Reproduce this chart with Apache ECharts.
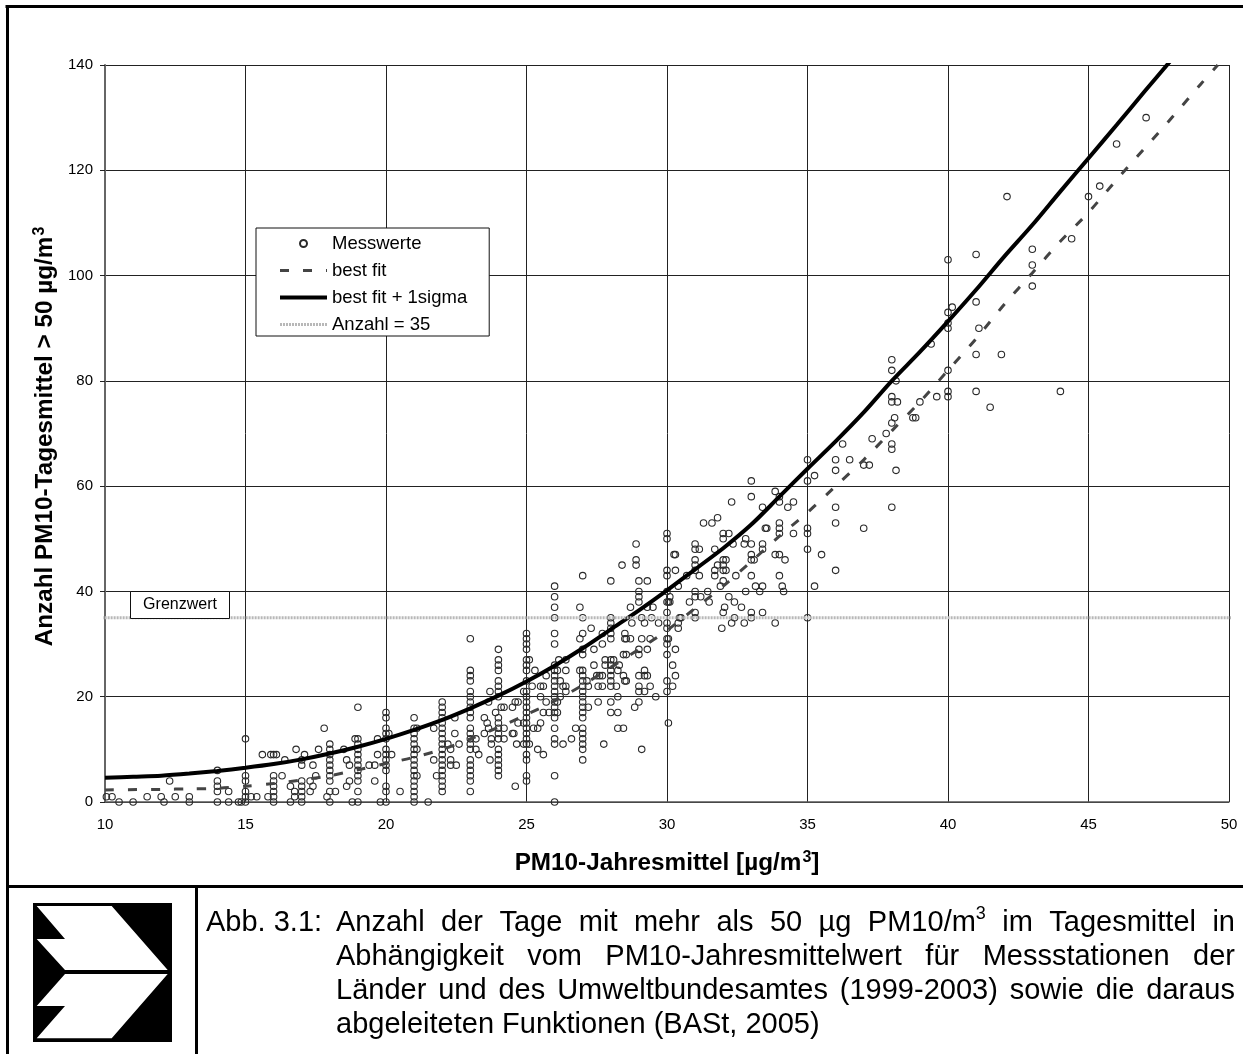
<!DOCTYPE html>
<html><head><meta charset="utf-8">
<style>html,body{margin:0;padding:0;background:#fff}#c{width:1243px;height:1054px}</style>
<script src="https://cdn.jsdelivr.net/npm/echarts@6/dist/echarts.min.js"></script>
</head><body><div id="c"></div>
<script>
const FONT = '"Liberation Sans", Arial, sans-serif';
const xTicks = [10, 15, 20, 25, 30, 35, 40, 45, 50];
const yTicks = [0, 20, 40, 60, 80, 100, 120, 140];
const seriesNames = ['Messwerte', 'best fit', 'best fit + 1sigma', 'Anzahl = 35'];
const xTitle = 'PM10-Jahresmittel [µg/m{sup|3}]';
const yTitle = 'Anzahl PM10-Tagesmittel > 50 µg/m{sup|3}';
const limitLabel = 'Grenzwert';

const points10to20 = [[10.05,1],[10.25,1],[10.5,0],[11,0],[11.5,1],[12,1],[12.1,0],[12.3,4],[12.5,1],[13,1],[13,0],[14,6],[14,4],[14,3],[14,2],[14,0],[14.4,2],[14.4,0],[14.75,0],[14.85,0],[15,0],[15,1],[15,2],[15,4],[15,5],[15,12],[15.2,1],[15.4,1],[15.6,9],[15.8,1],[15.9,9],[16,9],[16.1,9],[16,0],[16,1],[16,2],[16,3],[16,4],[16,5],[16.3,5],[16.4,8],[16.6,3],[16.6,0],[16.75,1],[16.75,2],[16.8,10],[17,0],[17,1],[17,2],[17,3],[17,4],[17,7],[17,8],[17.1,9],[17.3,2],[17.3,4],[17.4,3],[17.4,7],[17.5,5],[17.6,10],[17.8,14],[17.9,1],[18,0],[18,2],[18,4],[18,5],[18,6],[18,7],[18,8],[18,9],[18,10],[18,11],[18.2,2],[18.5,10],[18.6,3],[18.6,8],[18.7,7],[18.7,4],[18.8,0],[18.9,12],[19,0],[19,2],[19,4],[19,5],[19,6],[19,7],[19,8],[19,9],[19,10],[19,11],[19,12],[19,18],[19.4,7],[19.6,7],[19.6,4],[19.7,12],[19.7,9],[19.8,0],[20,0],[20,2],[20,3],[20,6],[20,7],[20,8],[20,9],[20,10],[20,12],[20,13],[20,14],[20,16],[20,17]];
const points20to23 = [[20.1,13],[20.2,9],[20.5,2],[21,16],[21,14],[21,13],[21,12],[21,11],[21,10],[21,9],[21,8],[21,7],[21,6],[21,5],[21,4],[21,3],[21,2],[21,1],[21,0],[21.1,14],[21.1,10],[21.1,5],[21.5,0],[21.7,14],[21.7,8],[21.8,5],[22,19],[22,18],[22,17],[22,16],[22,15],[22,14],[22,13],[22,12],[22,11],[22,10],[22,9],[22,8],[22,7],[22,6],[22,5],[22,4],[22,3],[22,2],[22.2,11],[22.3,10],[22.3,8],[22.3,7],[22.45,16],[22.45,13],[22.5,7],[22.6,11]];
const points23to25 = [[23,31],[23,25],[23,24],[23,23],[23,21],[23,20],[23,19],[23,18],[23,17],[23,16],[23,14],[23,13],[23,12],[23,11],[23,10],[23,8],[23,7],[23,6],[23,5],[23,4],[23,2],[23.2,12],[23.2,10],[23.3,9],[23.5,16],[23.5,13],[23.6,15],[23.65,19],[23.65,14],[23.7,21],[23.7,8],[23.75,12],[23.75,11],[23.9,17],[24,29],[24,27],[24,26],[24,25],[24,23],[24,22],[24,21],[24,20],[24,16],[24,15],[24,14],[24,13],[24,12],[24,10],[24,9],[24,8],[24,7],[24,6],[24,5],[24.1,18],[24.2,18],[24.2,12],[24.2,14],[24.5,18],[24.5,13],[24.6,3],[24.55,13],[24.6,19],[24.7,19],[24.7,15],[24.65,11],[24.9,21],[24.9,11],[24.9,15],[25,32],[25,31],[25,30],[25,29],[25,27],[25,26],[25,25],[25,23],[25,21],[25,20],[25,19],[25,18],[25,17],[25,16],[25,15],[25,14],[25,13],[25,12],[25,11],[25,9],[25,8],[25,5],[25,4]];
const points25to27 = [[25.1,11],[25.1,27],[25.2,22],[25.25,14],[25.3,25],[25.4,14],[25.4,10],[25.5,22],[25.5,20],[25.5,15],[25.6,22],[25.6,17],[25.6,9],[25.7,24],[25.7,19],[25.8,17],[26,41],[26,39],[26,37],[26,35],[26,32],[26,30],[26,26],[26,25],[26,24],[26,23],[26,22],[26,21],[26,20],[26,19],[26,18],[26,17],[26,16],[26,14],[26,12],[26,11],[26,5],[26,0],[26.1,17],[26.1,19],[26.1,25],[26.15,27],[26.2,23],[26.2,20],[26.3,22],[26.3,11],[26.4,27],[26.4,25],[26.4,21],[26.4,22],[26.6,12],[26.75,14],[26.9,37],[26.9,31],[26.9,25],[27,43],[27,35],[27,32],[27,29],[27,28],[27,25],[27,24],[27,23],[27,22],[27,21],[27,20],[27,19],[27,18],[27,17],[27,16],[27,14],[27,13],[27,12],[27,11],[27,10],[27,8]];
const points27to29 = [[27.15,23],[27.2,22],[27.2,18],[27.3,33],[27.4,29],[27.4,26],[27.5,24],[27.55,19],[27.55,22],[27.6,24],[27.7,32],[27.7,30],[27.7,22],[27.7,24],[27.75,11],[27.8,27],[27.8,26],[28,42],[28,35],[28,34],[28,33],[28,32],[28,31],[28,27],[28,26],[28,25],[28,24],[28,23],[28,22],[28,19],[28,17],[28.1,27],[28.2,22],[28.25,25],[28.25,20],[28.25,17],[28.25,14],[28.3,26],[28.4,45],[28.45,28],[28.45,24],[28.45,14],[28.5,32],[28.5,31],[28.5,23],[28.55,31],[28.55,28],[28.55,23],[28.7,37],[28.7,31],[28.75,34],[28.85,18],[28.9,49],[28.9,46],[28.9,45]];
const points29to31 = [[29,42],[29,40],[29,39],[29,38],[29,29],[29,28],[29,24],[29,22],[29,21],[29,19],[29.1,35],[29.1,31],[29.1,10],[29.2,34],[29.2,25],[29.2,24],[29.2,21],[29.3,42],[29.3,37],[29.3,29],[29.3,24],[29.4,31],[29.4,22],[29.45,35],[29.5,37],[29.6,20],[29.7,34],[30,51],[30,50],[30,44],[30,43],[30,40],[30,38],[30,36],[30,34],[30,33],[30,31],[30,30],[30,28],[30,23],[30,21],[30.05,38],[30.05,31],[30.05,15],[30.1,39],[30.1,38],[30.2,22],[30.2,26],[30.25,47],[30.3,47],[30.3,44],[30.3,24],[30.3,29],[30.4,41],[30.4,33],[30.45,35],[30.5,35],[30.4,34],[30.7,43],[30.8,38]];
const points31to35 = [[31,49],[31,48],[31,46],[31,45],[31,44],[31,40],[31,39],[31,36],[31,35],[31.15,48],[31.15,43],[31.2,39],[31.3,53],[31.45,40],[31.5,38],[31.6,53],[31.7,44],[31.7,43],[31.7,48],[31.8,54],[31.8,45],[31.9,41],[31.95,33],[32,51],[32,50],[32,46],[32,45],[32,44],[32,42],[32,36],[32.05,37],[32.1,46],[32.1,44],[32.2,51],[32.2,39],[32.3,34],[32.3,57],[32.35,49],[32.4,38],[32.4,35],[32.45,43],[32.65,37],[32.75,34],[32.75,49],[32.8,50],[32.8,40],[33,47],[33,46],[33,43],[33,36],[33,35],[33,61],[33,58],[33,49],[33.1,46],[33.15,41],[33.3,40],[33.4,36],[33.4,41],[33.4,56],[33.4,49],[33.4,48],[33.5,52],[33.55,52],[33.85,59],[33.85,47],[33.85,34],[34,58],[34,57],[34,53],[34,52],[34,51],[34,47],[34,43],[34.1,41],[34.15,40],[34.2,46],[34.3,56],[34.5,57],[34.5,51]];
const points35to40 = [[35,65],[35,61],[35,52],[35,51],[35,48],[35,35],[35.25,62],[35.25,41],[35.5,47],[36,65],[36,63],[36,56],[36,53],[36,44],[36.25,68],[36.5,65],[37,64],[37,52],[37.2,64],[37.3,69],[37.8,70],[38,84],[38,82],[38,77],[38,76],[38,72],[38,68],[38,67],[38,56],[38.1,73],[38.15,63],[38.15,80],[38.2,76],[38.75,73],[38.85,73],[39,76],[39.4,87],[39.6,77]];
const points40to50 = [[40,103],[40,93],[40,91],[40,90],[40,82],[40,78],[40,77],[40.15,94],[41,104],[41,95],[41,85],[41,78],[41.1,90],[41.5,75],[41.9,85],[42.1,115],[43,105],[43,102],[43,98],[44,78],[44.4,107],[45,115],[45.4,117],[46,125],[47.05,130]];
const measured = [].concat(points10to20, points20to23, points23to25, points25to27, points27to29, points29to31, points31to35, points35to40, points40to50);

const bestFitX = [10,12,13,14,15,16,17,18,19,20,21,22,23,24,25,26,27,28,29,30,31,32,33,34,35,36,37,38,39,40,41,42,43,44,45,46,47,48,49,49.6];
const bestFitY = [2.3,2.4,2.5,2.6,3,3.5,4.2,5,6.1,7.3,8.5,10,12,14.2,16.6,19.2,22.2,25.6,29,32.6,36.8,41,45.7,50.5,55,60,65,70.5,76,82,88,94.5,100.5,106.5,112,118.2,124.2,130.2,136.4,140];
const sigmaX = [10,11,12,13,14,15,16,17,18,19,20,21,22,23,24,25,26,27,28,29,30,31,32,33,34,35,36,37,38,39,40,41,42,43,44,45,46,47,48];
const sigmaY = [4.6,4.8,5,5.4,5.9,6.5,7.2,8.1,9.2,10.5,12,13.7,15.6,17.8,20.2,22.9,25.9,29.2,32.8,36.4,40.2,44.2,48.2,52.7,58,63.3,68.5,74,80,85.5,91.3,97.3,103.6,109.6,116,122.3,128.6,135,141.3];
const limitX = [9.88, 50.09];
const limitY = [35, 35];

const captionLead = 'Abb. 3.1:';
const captionLines = [
  'Anzahl der Tage mit mehr als 50 µg PM10/m^3 im Tagesmittel in',
  'Abhängigkeit vom PM10-Jahresmittelwert für Messstationen der',
  'Länder und des Umweltbundesamtes (1999-2003) sowie die daraus',
  'abgeleiteten Funktionen (BASt, 2005)'
];

const zip = (a, b) => a.map((v, i) => [v, b[i]]);

// ---- frame, logo, caption ----
const BLACK = '#000';
const bar = (x, y, w, h) => ({type:'rect', shape:{x,y,width:w,height:h}, style:{fill:BLACK}, z:1, silent:true});
const graphics = [
  bar(5.5,5,1238,3), bar(6,5,3,1049), bar(6,885,1237,3), bar(195,885,3,169),
  {type:'rect', shape:{x:33,y:903,width:139,height:139}, style:{fill:BLACK}, z:1},
  {type:'polygon', shape:{points:[[36.7,906],[111.7,906],[167.7,970],[65,970],[36.7,939],[65,939]]}, style:{fill:'#fff'}, z:2},
  {type:'polygon', shape:{points:[[65,974],[167.7,974],[111.7,1038.3],[36.7,1038.3],[65,1006],[36.7,1006]]}, style:{fill:'#fff'}, z:2},
  {type:'rect', shape:{x:130.5,y:591.5,width:99,height:27}, style:{fill:'#fff', stroke:'#111', lineWidth:1}, z:20},
  {type:'text', x:180, y:605, style:{text:limitLabel, font:'16px '+FONT, fill:'#000', align:'center', verticalAlign:'middle'}, z:21}
];
const CAP_FONT = 29, CAP_LEFT = 336, CAP_RIGHT = 1235, CAP_TOP = 922.5, CAP_STEP = 34.2;
const capFontStr = CAP_FONT + 'px ' + FONT;
const ctx = document.createElement('canvas').getContext('2d');
ctx.font = capFontStr;
const wordWidth = w => w.includes('^') ? ctx.measureText(w.split('^')[0]).width + 10 : ctx.measureText(w).width;
const pushWord = (w, x, y) => {
  if (w.includes('^')) {
    const [a, b] = w.split('^');
    graphics.push({type:'text', x, y, style:{text:a, font:capFontStr, fill:'#000', verticalAlign:'middle'}, z:5});
    graphics.push({type:'text', x:x+ctx.measureText(a).width, y:y-8, style:{text:b, font:'18px '+FONT, fill:'#000', verticalAlign:'middle'}, z:5});
  } else {
    graphics.push({type:'text', x, y, style:{text:w, font:capFontStr, fill:'#000', verticalAlign:'middle'}, z:5});
  }
};
pushWord(captionLead, 206, CAP_TOP);
captionLines.forEach((line, i) => {
  const y = CAP_TOP + i * CAP_STEP;
  const words = line.split(' ');
  const total = words.reduce((s, w) => s + wordWidth(w), 0);
  const last = i === captionLines.length - 1;
  const gap = last ? ctx.measureText(' ').width : (CAP_RIGHT - CAP_LEFT - total) / (words.length - 1);
  let x = CAP_LEFT;
  words.forEach(w => { pushWord(w, x, y); x += wordWidth(w) + gap; });
});

const titleRich = {sup:{fontSize:16, fontWeight:'bold', fontFamily:FONT, color:'#000', verticalAlign:'top', padding:[0,0,10,1]}};

const chart = echarts.init(document.getElementById('c'), null, {renderer:'canvas'});
chart.setOption({
  animation:false,
  backgroundColor:'#fff',
  textStyle:{fontFamily:FONT},
  grid:{left:105, right:14, top:65, bottom:252, containLabel:false},
  xAxis:{
    type:'value', min:xTicks[0], max:xTicks[xTicks.length-1], interval:5,
    name:xTitle, nameLocation:'middle', nameGap:48,
    nameTextStyle:{fontFamily:FONT, fontWeight:'bold', fontSize:24.3, color:'#000', rich:titleRich},
    axisLine:{onZero:false, lineStyle:{color:'#555', width:1.5}},
    axisTick:{show:false},
    axisLabel:{fontSize:15, color:'#000', margin:15},
    splitLine:{show:true, lineStyle:{color:'#222', width:1}}
  },
  yAxis:{
    type:'value', min:yTicks[0], max:yTicks[yTicks.length-1], interval:20,
    name:yTitle, nameLocation:'middle', nameGap:46, nameRotate:90,
    nameTextStyle:{fontFamily:FONT, fontWeight:'bold', fontSize:24.3, color:'#000', rich:titleRich, padding:[0,6,0,0]},
    axisLine:{onZero:false, show:true, lineStyle:{color:'#666', width:2}},
    axisTick:{show:true, inside:false, length:5, lineStyle:{color:'#222', width:1}},
    axisLabel:{fontSize:15, color:'#000', margin:12},
    splitLine:{show:true, lineStyle:{color:'#222', width:1}}
  },
  legend:{
    orient:'vertical', left:256, top:228, itemWidth:47, itemHeight:7, itemGap:8,
    padding:[6,22,2,22], backgroundColor:'#fff', borderColor:'#111', borderWidth:1,
    lineStyle:{width:'inherit'},
    textStyle:{fontFamily:FONT, fontSize:18.5, color:'#000'}, inactiveColor:'#000', selectedMode:false, z:15,
    data:seriesNames
  },
  series:[
    {name:seriesNames[0], type:'scatter', data:measured, symbol:'circle', symbolSize:6.5, z:3,
     itemStyle:{color:'rgba(255,255,255,0)', borderColor:'#2a2a2a', borderWidth:1.1, opacity:1}},
    {name:seriesNames[1], type:'line', data:zip(bestFitX,bestFitY), showSymbol:false, symbol:'none', smooth:0.3, z:4,
     lineStyle:{color:'#444', width:3, type:[9,14]}, itemStyle:{color:'rgba(0,0,0,0)', borderWidth:0}},
    {name:seriesNames[2], type:'line', data:zip(sigmaX,sigmaY), showSymbol:false, symbol:'none', smooth:0.3, z:5,
     lineStyle:{color:'#000', width:4}, itemStyle:{color:'rgba(0,0,0,0)', borderWidth:0}},
    {name:seriesNames[3], type:'line', data:zip(limitX,limitY), showSymbol:false, symbol:'none', z:6, clip:false,
     lineStyle:{color:'#b8b8b8', width:3, type:[2,1]}, itemStyle:{color:'rgba(0,0,0,0)', borderWidth:0}}
  ],
  graphic:{elements:graphics}
});
</script></body></html>
